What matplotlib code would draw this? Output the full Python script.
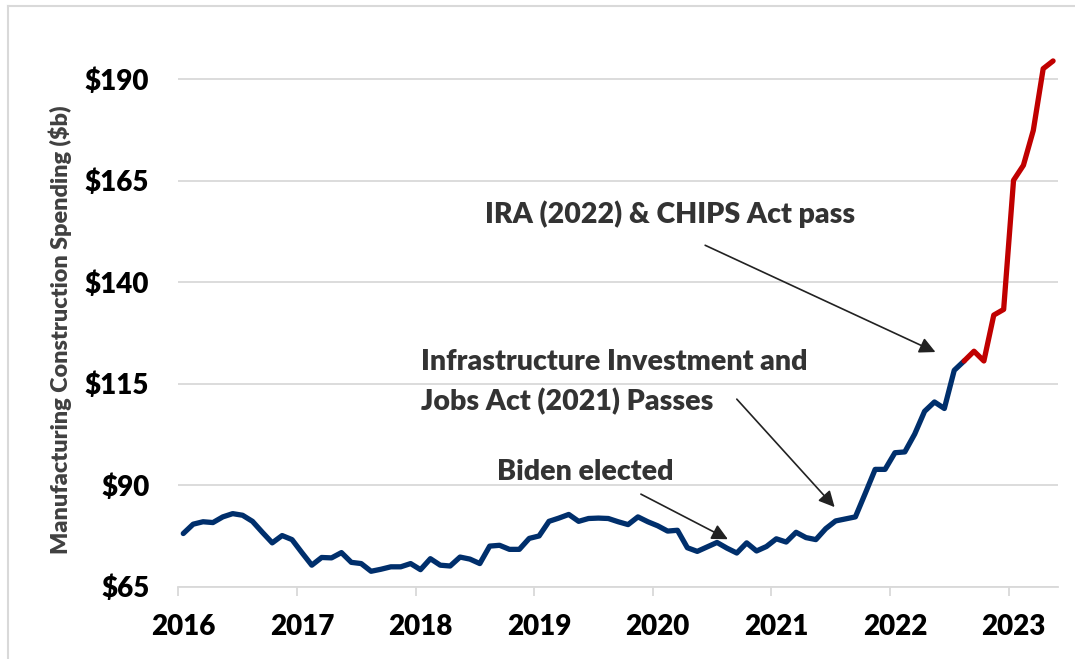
import matplotlib.pyplot as plt
import numpy as np
from matplotlib.lines import Line2D

plt.rcParams['font.family'] = ['Lato', 'DejaVu Sans']
plt.rcParams['font.weight'] = 'bold'

# monthly manufacturing construction spending, Jan 2016 - May 2023 ($b, SAAR)
spending = [
    78.1, 80.4, 81.0, 80.8, 82.2, 83.0, 82.6, 81.1, 78.4, 75.8, 77.6, 76.6,   # 2016
    73.4, 70.3, 72.2, 72.1, 73.4, 71.0, 70.7, 68.8, 69.3, 69.9, 69.9, 70.7,   # 2017
    69.2, 71.9, 70.3, 70.1, 72.3, 71.8, 70.7, 75.0, 75.2, 74.2, 74.2, 76.9,   # 2018
    77.5, 81.1, 81.9, 82.8, 81.1, 81.8, 81.9, 81.8, 81.0, 80.3, 82.2, 81.0,   # 2019
    80.0, 78.7, 78.9, 74.6, 73.7, 74.8, 75.9, 74.5, 73.3, 75.8, 73.8, 74.9,   # 2020
    76.8, 76.0, 78.4, 77.1, 76.6, 79.3, 81.2, 81.7, 82.2, 88.0, 93.9, 93.9,   # 2021
    98.0, 98.2, 102.6, 108.2, 110.5, 108.9, 118.3, 120.6, 123.0, 120.6, 131.9, 133.3,  # 2022
    165.1, 168.8, 177.4, 192.6, 194.5,                                        # 2023
]
years = ["2016", "2017", "2018", "2019", "2020", "2021", "2022", "2023"]
yticks = [65, 90, 115, 140, 165, 190]
ira_start = 79  # Aug 2022, series turns red from here

vals = np.array(spending)
x = np.arange(len(vals))

fig = plt.figure(figsize=(10.75, 6.59), dpi=100)
ax = fig.add_axes([0.1659, 0.1097, 0.8183, 0.8317])

ax.plot(x[:ira_start + 1], vals[:ira_start + 1], color="#002F6C", lw=3.8,
        solid_joinstyle="round", solid_capstyle="round", zorder=3)
ax.plot(x[ira_start:], vals[ira_start:], color="#C00000", lw=3.8,
        solid_joinstyle="round", solid_capstyle="round", zorder=3)

ax.set_xlim(-0.5, len(vals) - 0.5)
ax.set_ylim(65, 200)

ax.set_yticks(yticks)
ax.set_yticklabels([f"${v}" for v in yticks], fontsize=20, fontweight="heavy")
ax.tick_params(axis="y", length=0, pad=21)
ax.grid(axis="y", color="#D9D9D9", lw=1.3)
ax.set_axisbelow(True)

ax.set_xticks(np.arange(len(years)) * 12)
ax.set_xticklabels(years, fontsize=20, fontweight="heavy")
ax.set_xticks(np.arange(len(years)) * 12 - 0.5, minor=True)
ax.tick_params(axis="x", which="major", length=0, pad=20)
ax.tick_params(axis="x", which="minor", length=6.5, width=1.3, color="#D9D9D9")

for s in ["top", "right", "left"]:
    ax.spines[s].set_visible(False)
ax.spines["bottom"].set_color("#D9D9D9")
ax.spines["bottom"].set_linewidth(1.3)

fig.text(0.0558, 0.499, "Manufacturing Construction Spending ($b)", rotation=90,
         ha="center", va="center", fontsize=16.8, fontweight="heavy", color="#404040")

# event labels and arrows
txt = dict(fontsize=20.5, fontweight="heavy", color="#333333", va="baseline")
arrow = dict(arrowstyle="-|>", mutation_scale=24, lw=1.2, color="#222222",
             shrinkA=0, shrinkB=0)

ax.text(30.5, 154.5, "IRA (2022) & CHIPS Act pass", **txt)
ax.annotate("", xy=(76.1, 122.8), xytext=(52.8, 149.1), arrowprops=arrow)

ax.text(24.1, 118.4, "Infrastructure Investment and", **txt)
ax.text(24.1, 108.5, "Jobs Act (2021) Passes", **txt)
ax.annotate("", xy=(65.9, 84.6), xytext=(56.0, 111.2), arrowprops=arrow)

ax.text(31.7, 91.3, "Biden elected", **txt)
ax.annotate("", xy=(55.1, 76.7), xytext=(46.3, 87.8), arrowprops=arrow)

# light frame along the top and left edges
fig.add_artist(Line2D([7.5 / 1075, 1], [653 / 659, 653 / 659], color="#D9D9D9", lw=1.5))
fig.add_artist(Line2D([7.5 / 1075, 7.5 / 1075], [0, 653 / 659], color="#D9D9D9", lw=1.5))

fig.savefig("out.png", dpi=100, facecolor="white")
